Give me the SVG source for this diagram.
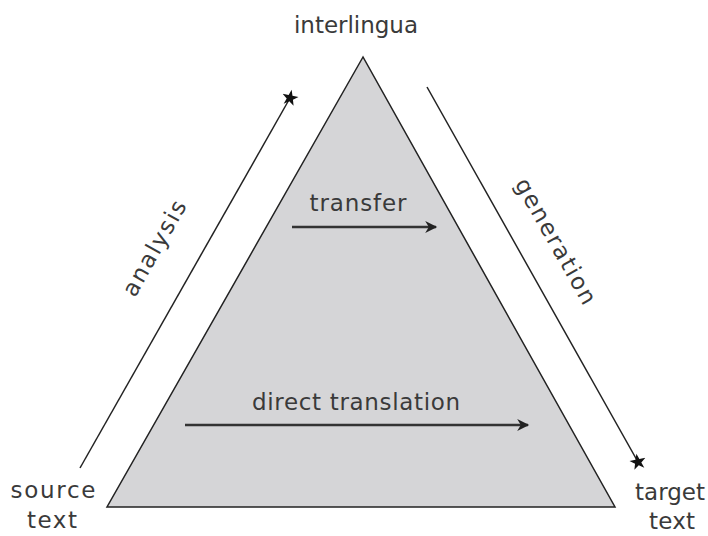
<svg xmlns="http://www.w3.org/2000/svg" width="708" height="536" viewBox="0 0 708 536">
<style>
text{font-family:"DejaVu Sans","Liberation Sans",sans-serif;fill:#3a3a3a;font-size:23px}
.ln{stroke:#222;stroke-width:1.5;fill:none}
.ar{stroke:#333;stroke-width:2.5;fill:none}
</style>
<defs>
<marker id="star" viewBox="-6 -6 12 12" markerWidth="17" markerHeight="17" markerUnits="userSpaceOnUse" refX="0" refY="0" orient="auto">
<polygon points="0,-6 1.4,-1.9 5.7,-1.9 2.3,0.7 3.5,4.9 0,2.4 -3.5,4.9 -2.3,0.7 -5.7,-1.9 -1.4,-1.9" fill="#111"/>
</marker>
<marker id="arr" viewBox="0 0 10 10" markerWidth="16" markerHeight="12" markerUnits="userSpaceOnUse" refX="9" refY="5" orient="auto">
<path d="M0,0 L10,5 L0,10 L3,5 Z" fill="#222"/>
</marker>
</defs>
<g id="triangle">
<polygon points="363,57 107,507 615,507" fill="#d5d5d7" stroke="#222" stroke-width="1.5"/>
</g>
<g id="interlingua"><text x="356" y="33" text-anchor="middle" textLength="124" lengthAdjust="spacing">interlingua</text></g>
<g id="source"><text x="53" y="498" text-anchor="middle" textLength="85" lengthAdjust="spacing">source</text><text x="52" y="528" text-anchor="middle" textLength="50" lengthAdjust="spacing">text</text></g>
<g id="target"><text x="670" y="500" text-anchor="middle" textLength="70" lengthAdjust="spacing">target</text><text x="672" y="529" text-anchor="middle" textLength="46" lengthAdjust="spacing">text</text></g>
<g id="connectors">
<line class="ln" x1="80" y1="468" x2="290" y2="98" marker-end="url(#star)"/>
<line class="ln" x1="427" y1="87" x2="638" y2="462" marker-end="url(#star)"/>
<line class="ar" x1="292" y1="227" x2="436" y2="227" marker-end="url(#arr)"/>
<line class="ar" x1="185" y1="425" x2="528" y2="425" marker-end="url(#arr)"/>
</g>
<g id="labels">
<text x="358" y="211" text-anchor="middle" textLength="97" lengthAdjust="spacing">transfer</text>
<text x="356" y="410" text-anchor="middle" textLength="208" lengthAdjust="spacing">direct translation</text>
<text transform="translate(161,252) rotate(-60.5)" text-anchor="middle" textLength="106" lengthAdjust="spacing">analysis</text>
<text transform="translate(549,245) rotate(60.5)" text-anchor="middle" textLength="141" lengthAdjust="spacing">generation</text>
</g>
</svg>
